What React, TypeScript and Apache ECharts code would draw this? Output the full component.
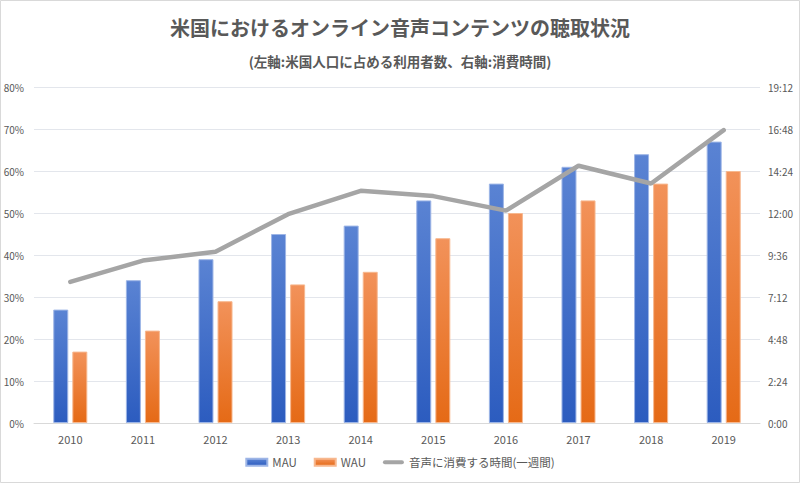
import React, { useEffect, useRef } from "react";
import * as echarts from "echarts";

const years = ["2010", "2011", "2012", "2013", "2014", "2015", "2016", "2017", "2018", "2019"];
const mau = [27, 34, 39, 45, 47, 53, 57, 61, 64, 67];
const wau = [17, 22, 29, 33, 36, 44, 50, 53, 57, 60];
// weekly listening time, in minutes
const listenMinutes = [484, 557, 587, 716, 796, 778, 728, 882, 821, 1004];

const FONT = "'Noto Sans CJK JP', 'Noto Sans', sans-serif";
const TXT = "#595959";

function fmtTime(v: number) {
  const h = Math.floor(v / 60);
  const m = Math.round(v - h * 60);
  return `${h}:${m < 10 ? "0" + m : m}`;
}

export default function App() {
  const ref = useRef<HTMLDivElement>(null);
  useEffect(() => {
    if (!ref.current) return;
    const chart = echarts.init(ref.current, undefined, { renderer: "svg" });
    chart.setOption({
      animation: false,
      backgroundColor: "#ffffff",
      textStyle: { fontFamily: FONT },
      title: [
        {
          text: "米国におけるオンライン音声コンテンツの聴取状況",
          left: "center",
          top: 12,
          textStyle: { fontSize: 20, fontWeight: "bold", color: TXT, fontFamily: FONT },
        },
        {
          text: "(左軸:米国人口に占める利用者数、右軸:消費時間)",
          left: "center",
          top: 49,
          textStyle: { fontSize: 13.5, fontWeight: "bold", color: TXT, fontFamily: FONT },
        },
      ],
      graphic: [
        {
          type: "rect",
          shape: { x: 0.5, y: 0.5, width: 799, height: 482 },
          style: { fill: "none", stroke: "#d9d9d9", lineWidth: 1 },
          silent: true,
        },
      ],
      legend: {
        bottom: 10,
        left: "center",
        itemGap: 17,
        itemWidth: 21,
        itemHeight: 7,
        textStyle: { fontSize: 11.5, color: TXT, fontFamily: FONT },
        data: [
          { name: "MAU", icon: "rect" },
          { name: "WAU", icon: "rect" },
          {
            name: "音声に消費する時間(一週間)",
            icon: "path://M2,0 L19,0 A2,2 0 0 1 19,4 L2,4 A2,2 0 0 1 2,0 Z",
            itemStyle: { color: "#a5a5a5" },
          },
        ],
      },
      grid: { left: 34, right: 40, top: 87, bottom: 60, containLabel: false },
      xAxis: {
        type: "category",
        data: years,
        axisLine: { lineStyle: { color: "#d9d9d9" } },
        axisTick: { show: false },
        axisLabel: { color: TXT, fontSize: 11, margin: 10, fontFamily: FONT },
      },
      yAxis: [
        {
          type: "value",
          min: 0,
          max: 80,
          interval: 10,
          axisLabel: { formatter: "{value}%", color: TXT, fontSize: 10, margin: 10, fontFamily: FONT },
          splitLine: { lineStyle: { color: "#e3e6ec" } },
          axisLine: { show: false },
          axisTick: { show: false },
        },
        {
          type: "value",
          min: 0,
          max: 1152,
          interval: 144,
          axisLabel: { formatter: (v: number) => fmtTime(v), color: TXT, fontSize: 10, margin: 8, fontFamily: FONT },
          splitLine: { show: false },
          axisLine: { show: false },
          axisTick: { show: false },
        },
      ],
      series: [
        {
          name: "MAU",
          type: "bar",
          data: mau,
          barWidth: 15,
          barGap: "27%",
          itemStyle: {
            color: new echarts.graphic.LinearGradient(0, 0, 0, 1, [
              { offset: 0, color: "#5a83d3" },
              { offset: 1, color: "#2c5cbf" },
            ]),
            borderColor: "#9db5e6",
            borderWidth: 1,
          },
        },
        {
          name: "WAU",
          type: "bar",
          data: wau,
          barWidth: 15,
          itemStyle: {
            color: new echarts.graphic.LinearGradient(0, 0, 0, 1, [
              { offset: 0, color: "#f2925a" },
              { offset: 1, color: "#e56a16" },
            ]),
            borderColor: "#f7b88f",
            borderWidth: 1,
          },
        },
        {
          name: "音声に消費する時間(一週間)",
          type: "line",
          yAxisIndex: 1,
          data: listenMinutes,
          showSymbol: false,
          symbol: "none",
          lineStyle: { color: "#a5a5a5", width: 4.5, cap: "round" },
          itemStyle: { color: "#a5a5a5" },
        },
      ],
    });
    return () => chart.dispose();
  }, []);
  return (
    <div
      ref={ref}
      style={{ position: "absolute", left: 0, top: 0, width: 800, height: 483 }}
    />
  );
}
